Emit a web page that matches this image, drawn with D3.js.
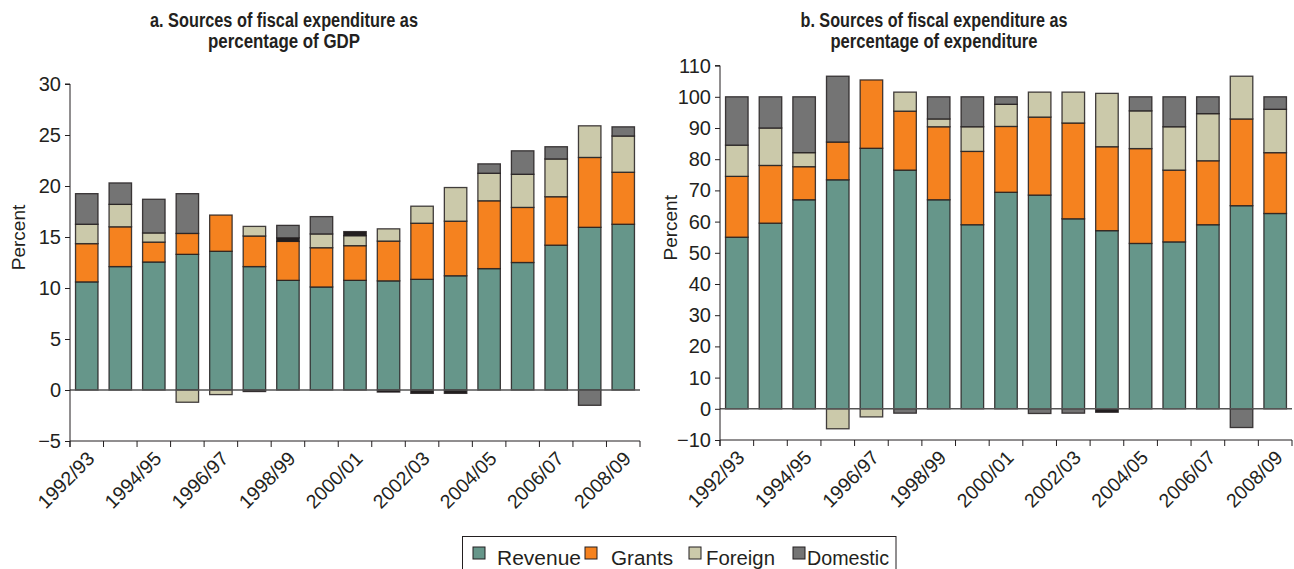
<!DOCTYPE html>
<html>
<head>
<meta charset="utf-8">
<script src="https://cdn.jsdelivr.net/npm/d3@7"></script>
<style>
  html, body { margin: 0; padding: 0; background: #fff; }
  svg { display: block; }
  text { font-family: "Liberation Sans", Arial, sans-serif; fill: #231f20; }
</style>
</head>
<body>
<svg id="chart" width="1294" height="569"></svg>
<script>
// ---------------- DATA ----------------
const years = ["1992/93","1993/94","1994/95","1995/96","1996/97","1997/98","1998/99","1999/2000",
  "2000/01","2001/02","2002/03","2003/04","2004/05","2005/06","2006/07","2007/08","2008/09"];
const labeledYears = ["1992/93","1994/95","1996/97","1998/99","2000/01","2002/03","2004/05","2006/07","2008/09"];
const seriesNames = ["Revenue","Grants","Foreign","Domestic"];

// Panel a: percentage of GDP
const gdpRevenue  = [10.6, 12.1, 12.55, 13.3, 13.6, 12.1, 10.75, 10.1, 10.75, 10.7, 10.85, 11.2, 11.9, 12.5, 14.2, 15.95, 16.25];
const gdpGrants   = [3.75, 3.9, 1.95, 2.05, 3.55, 3.0, 3.82, 3.85, 3.4, 3.9, 5.5, 5.35, 6.65, 5.4, 4.75, 6.85, 5.1];
const gdpForeign  = [1.9, 2.2, 0.9, -1.2, -0.45, 0.94, 0.35, 1.35, 0.98, 1.2, 1.67, 3.3, 2.7, 3.25, 3.7, 3.1, 3.55];
const gdpDomestic = [3.0, 2.1, 3.3, 3.9, 0, -0.15, 1.22, 1.7, 0.4, -0.2, -0.33, -0.33, 0.92, 2.3, 1.2, -1.5, 0.9];
const gdpTicks = [-5, 0, 5, 10, 15, 20, 25, 30];

// Panel b: percentage of expenditure
const expRevenue  = [55, 59.5, 67, 73.4, 83.5, 76.5, 67, 59, 69.4, 68.5, 60.9, 57.1, 53, 53.5, 59, 65.1, 62.6];
const expGrants   = [19.5, 18.5, 10.6, 12.1, 21.9, 18.9, 23.4, 23.5, 21.1, 25, 30.7, 26.9, 30.4, 23, 20.5, 27.8, 19.5];
const expForeign  = [10, 12, 4.5, -6.4, -2.6, 6.1, 2.5, 7.9, 7.1, 8, 9.9, 17.1, 12.1, 13.9, 15.1, 13.7, 13.9];
const expDomestic = [15.5, 10, 17.9, 21.1, 0, -1.4, 7.1, 9.6, 2.4, -1.5, -1.4, -1.1, 4.5, 9.6, 5.4, -6, 4];
const expTicks = [-10, 0, 10, 20, 30, 40, 50, 60, 70, 80, 90, 100, 110];

// ---------------- STYLE ----------------
const colors = { Revenue: "#66968a", Grants: "#f5821f", Foreign: "#cbc9aa", Domestic: "#747474" };
const ink = "#231f20";

const svg = d3.select("#chart");

function buildRows(rev, gr, fo, dom) {
  return years.map((y, i) => ({ year: y, Revenue: rev[i], Grants: gr[i], Foreign: fo[i], Domestic: dom[i] }));
}

function drawPanel(cfg) {
  const g = svg.append("g");
  const x = d3.scaleBand().domain(years).range(cfg.xRange).paddingInner(0.33).paddingOuter(0.165);
  const y = d3.scaleLinear().domain(cfg.yDomain).range(cfg.yRange);

  const stack = d3.stack().keys(seriesNames).offset(d3.stackOffsetDiverging);
  const layers = stack(cfg.rows);

  layers.forEach(layer => {
    g.append("g").selectAll("rect")
      .data(layer.filter(d => d[1] !== d[0]))
      .join("rect")
      .attr("x", d => x(d.data.year))
      .attr("width", x.bandwidth())
      .attr("y", d => y(Math.max(d[0], d[1])))
      .attr("height", d => Math.abs(y(d[0]) - y(d[1])))
      .attr("fill", d => Math.abs(y(d[0]) - y(d[1])) < 4.2 ? ink : colors[layer.key])
      .attr("stroke", ink)
      .attr("stroke-opacity", 0.85)
      .attr("stroke-width", 1.3);
  });

  // zero line
  g.append("line")
    .attr("x1", cfg.xRange[0]).attr("x2", cfg.xRange[1])
    .attr("y1", y(0)).attr("y2", y(0))
    .attr("stroke", "#555").attr("stroke-width", 1.5);

  // y axis
  const yAxis = d3.axisLeft(y).tickValues(cfg.yTicks).tickSize(5).tickPadding(4)
    .tickFormat(d => d < 0 ? "\u2212" + Math.abs(d) : d);
  const ya = g.append("g").attr("transform", `translate(${cfg.xRange[0]},0)`).call(yAxis);
  ya.select(".domain").attr("stroke", ink).attr("d", `M-5,${y(cfg.yDomain[1])}H0V${y(cfg.yDomain[0]) + 6}`);
  ya.selectAll(".tick line").attr("stroke", ink);
  ya.selectAll(".tick text").attr("font-size", 20).attr("fill", ink)
    .attr("font-family", "Liberation Sans, Arial, sans-serif");

  // x axis at bottom with boundary ticks
  const xb = g.append("g").attr("transform", `translate(0,${y(cfg.yDomain[0])})`);
  xb.append("line").attr("x1", cfg.xRange[0]).attr("x2", cfg.xRange[1])
    .attr("stroke", ink).attr("stroke-width", 1);
  const bounds = years.map(d => x(d) - x.step() * x.paddingInner() / 2).concat([cfg.xRange[1]]);
  xb.selectAll("line.tk").data(bounds).join("line").attr("class", "tk")
    .attr("x1", d => d).attr("x2", d => d).attr("y1", 0).attr("y2", 6)
    .attr("stroke", ink).attr("stroke-width", 1);
  xb.selectAll("text").data(labeledYears).join("text")
    .attr("transform", d => `translate(${x(d) + x.bandwidth() / 2 + 4},${14}) rotate(-45)`)
    .attr("text-anchor", "end")
    .attr("dy", "0.35em")
    .attr("font-size", 19.5)
    .text(d => d);

  // y label
  g.append("text")
    .attr("transform", `translate(${cfg.ylabX},${(y(cfg.yDomain[0]) + y(cfg.yDomain[1])) / 2 - 25}) rotate(-90)`)
    .attr("text-anchor", "middle")
    .attr("font-size", 19)
    .text("Percent");

  // title
  cfg.title.forEach((t, i) => {
    g.append("text")
      .attr("x", cfg.titleX).attr("y", 27 + i * 21)
      .attr("text-anchor", "middle")
      .attr("font-size", 19.5).attr("font-weight", "bold")
      .attr("textLength", cfg.titleLen[i]).attr("lengthAdjust", "spacingAndGlyphs")
      .text(t);
  });
}

drawPanel({
  rows: buildRows(gdpRevenue, gdpGrants, gdpForeign, gdpDomestic),
  xRange: [70, 640], yDomain: [-5, 30], yRange: [441, 84], yTicks: gdpTicks,
  ylabX: 25, titleX: 284,
  title: ["a. Sources of fiscal expenditure as", "percentage of GDP"], titleLen: [268, 152]
});

drawPanel({
  rows: buildRows(expRevenue, expGrants, expForeign, expDomestic),
  xRange: [720, 1292], yDomain: [-10, 110], yRange: [440, 65.6], yTicks: expTicks,
  ylabX: 677, titleX: 934,
  title: ["b. Sources of fiscal expenditure as", "percentage of expenditure"], titleLen: [267, 207]
});

// legend
const legend = svg.append("g");
legend.append("rect").attr("x", 462.5).attr("y", 536.5).attr("width", 433.5).attr("height", 40)
  .attr("fill", "none").attr("stroke", ink).attr("stroke-width", 1);
const legSwatchX = { Revenue: 473, Grants: 585, Foreign: 689, Domestic: 793 };
const legTextX = { Revenue: 497, Grants: 611, Foreign: 706, Domestic: 807 };
const legTextLen = { Revenue: 84, Grants: 62, Foreign: 69, Domestic: 82 };
seriesNames.forEach(n => {
  legend.append("rect").attr("x", legSwatchX[n]).attr("y", 547).attr("width", 12).attr("height", 12)
    .attr("fill", colors[n]).attr("stroke", ink).attr("stroke-width", 1);
  legend.append("text").attr("x", legTextX[n]).attr("y", 565).attr("font-size", 20.5)
    .attr("textLength", legTextLen[n]).attr("lengthAdjust", "spacingAndGlyphs").text(n);
});
</script>
</body>
</html>
